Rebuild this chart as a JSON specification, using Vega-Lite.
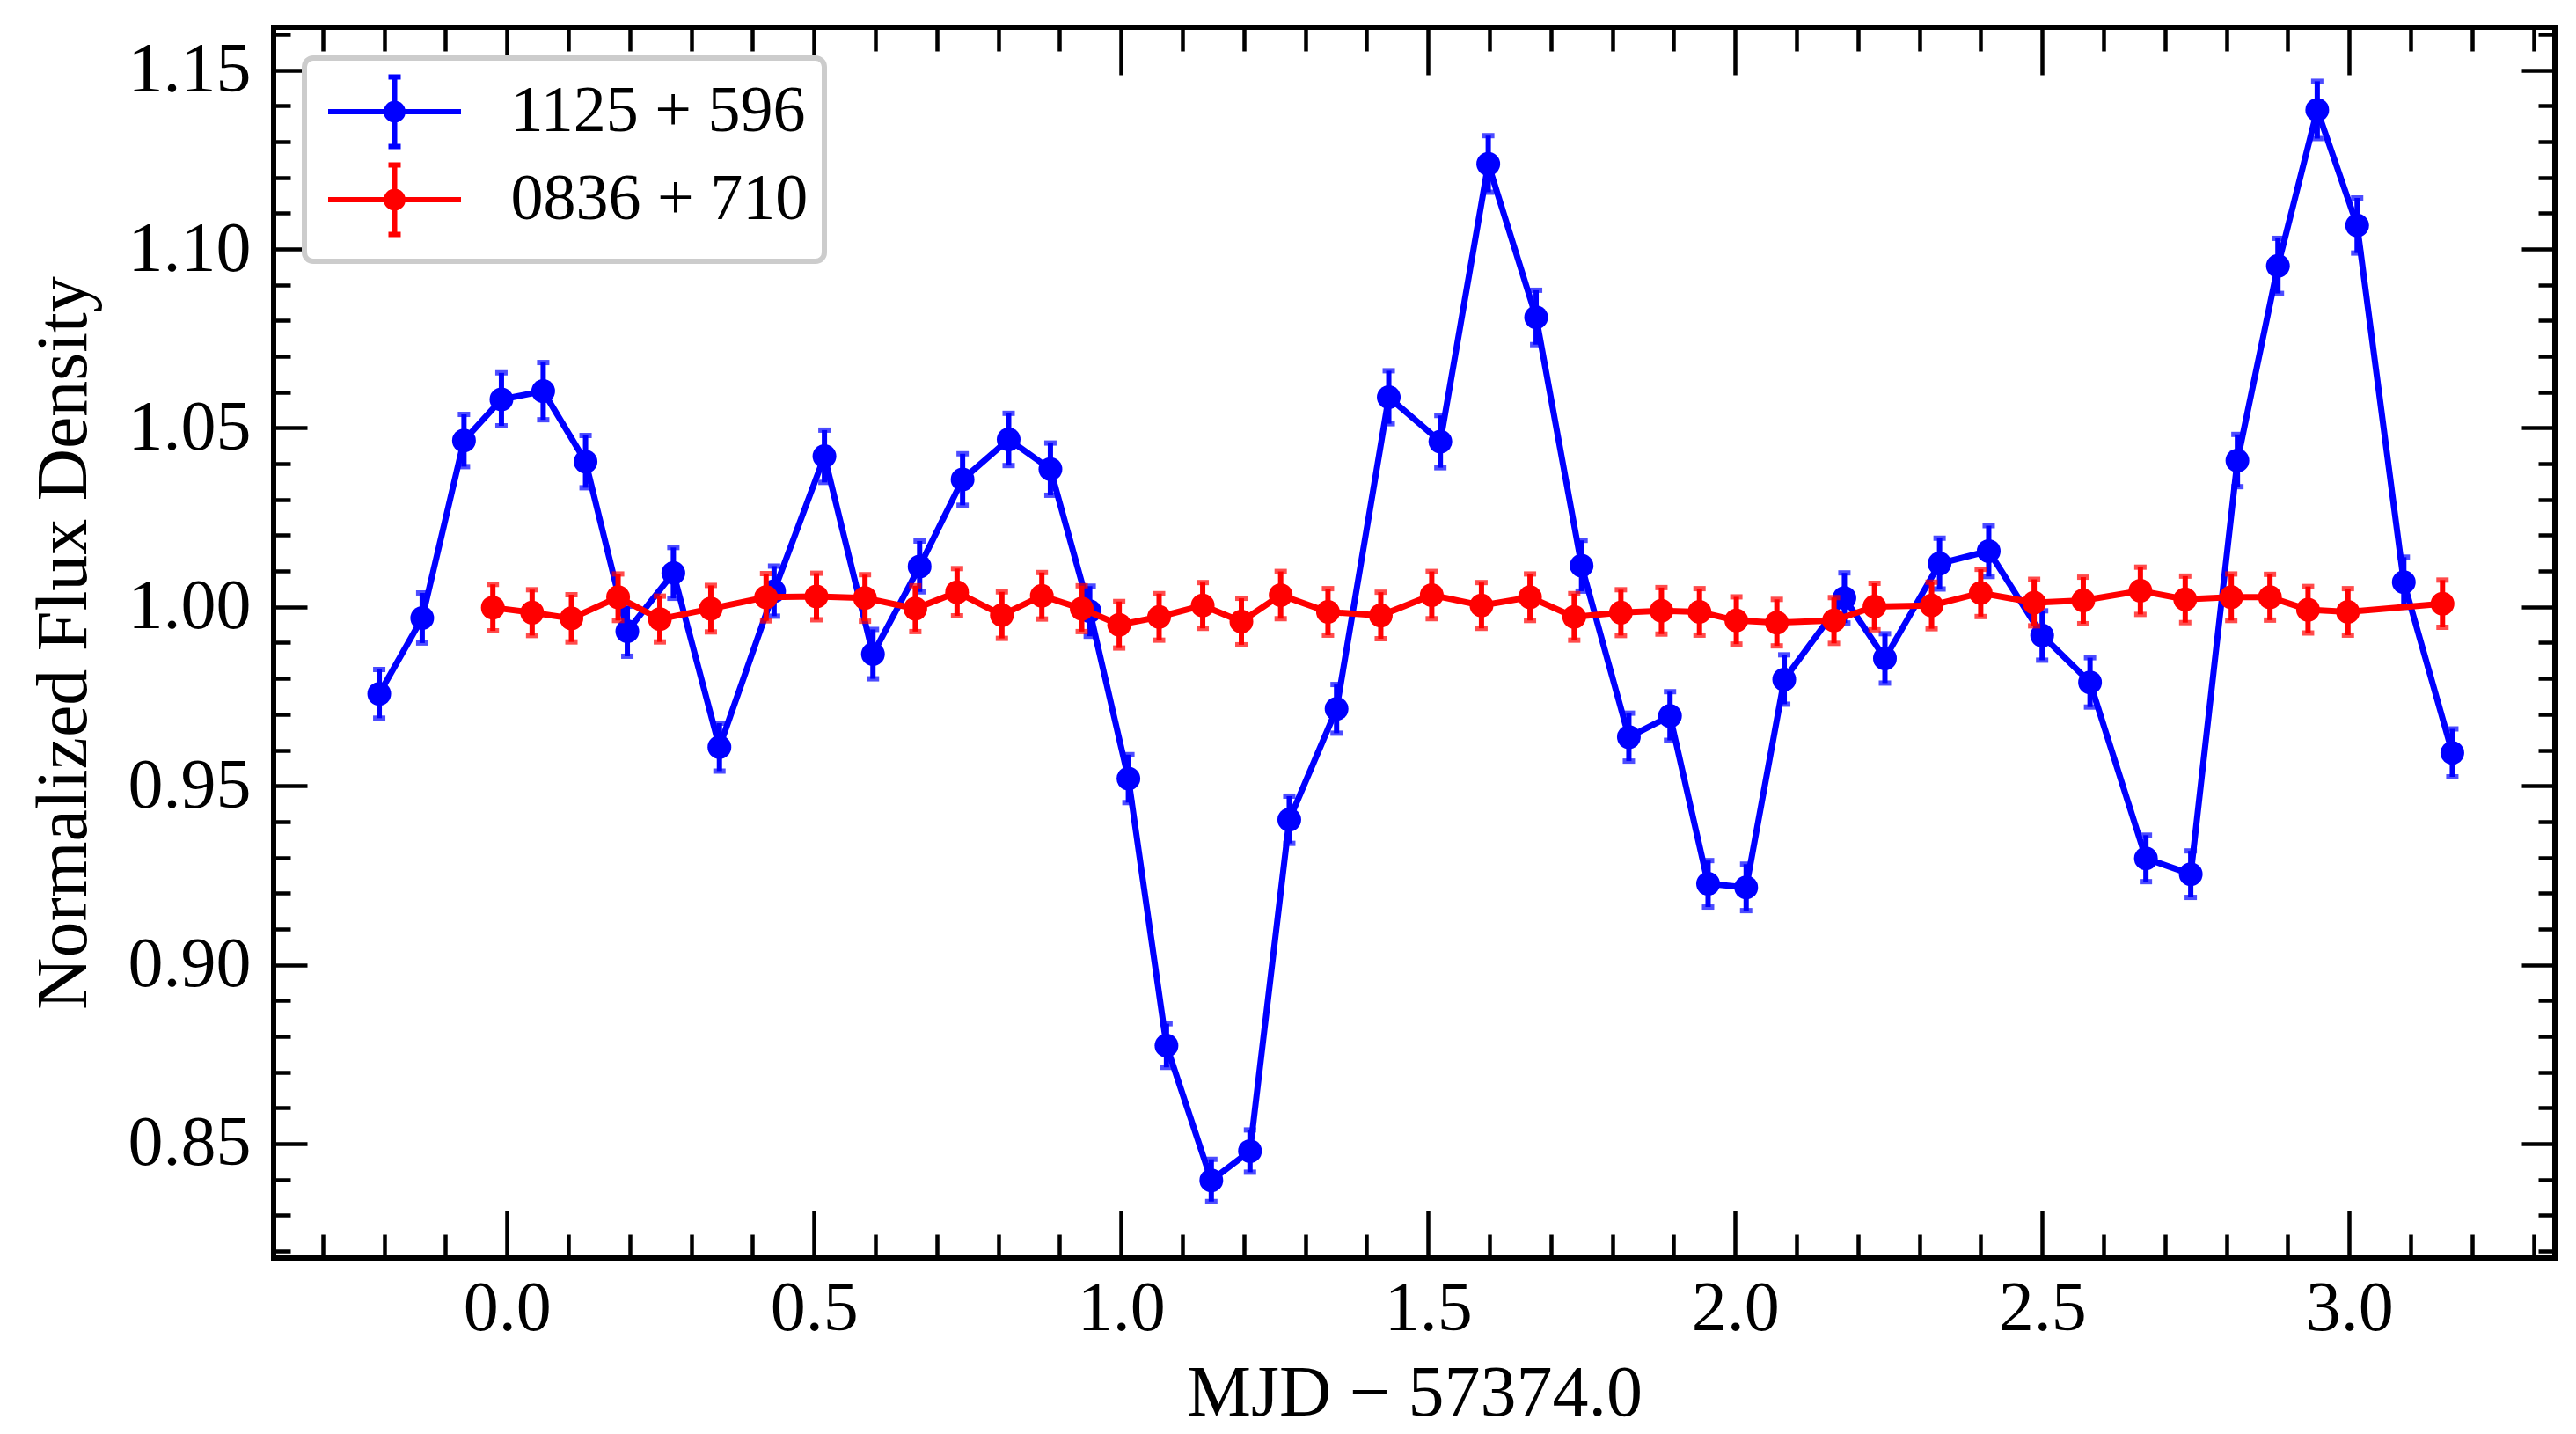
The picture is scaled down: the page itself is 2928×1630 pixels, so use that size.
{
  "$schema": "https://vega.github.io/schema/vega-lite/v6.json",
  "width": 2593,
  "height": 1399,
  "autosize": {"type": "none"},
  "padding": {"left": 311, "top": 31, "right": 24, "bottom": 200},
  "background": "white",
  "config": {
    "view": {"stroke": "black", "strokeWidth": 6},
    "font": "Liberation Serif",
    "axis": {
      "domain": false,
      "grid": false,
      "labelFont": "Liberation Serif",
      "labelFontSize": 80,
      "labelColor": "black",
      "labelFlush": false,
      "labelOverlap": false,
      "tickColor": "black",
      "tickWidth": 4.5,
      "titleFont": "Liberation Serif",
      "titleFontSize": 82,
      "titleFontWeight": "normal",
      "titleColor": "black"
    },
    "legend": {"symbolStrokeWidth": 6, "symbolOpacity": 1, "strokeWidth": 6}
  },
  "data": {
    "values": [
      {"mjd": -0.208, "flux": 0.9757, "err": 0.0068, "src": "1125 + 596"},
      {"mjd": -0.138, "flux": 0.9969, "err": 0.0070, "src": "1125 + 596"},
      {"mjd": -0.070, "flux": 1.0465, "err": 0.0073, "src": "1125 + 596"},
      {"mjd": -0.009, "flux": 1.0580, "err": 0.0074, "src": "1125 + 596"},
      {"mjd": 0.059, "flux": 1.0603, "err": 0.0080, "src": "1125 + 596"},
      {"mjd": 0.128, "flux": 1.0406, "err": 0.0073, "src": "1125 + 596"},
      {"mjd": 0.196, "flux": 0.9932, "err": 0.0070, "src": "1125 + 596"},
      {"mjd": 0.271, "flux": 1.0095, "err": 0.0071, "src": "1125 + 596"},
      {"mjd": 0.346, "flux": 0.9608, "err": 0.0067, "src": "1125 + 596"},
      {"mjd": 0.435, "flux": 1.0044, "err": 0.0070, "src": "1125 + 596"},
      {"mjd": 0.517, "flux": 1.0421, "err": 0.0073, "src": "1125 + 596"},
      {"mjd": 0.596, "flux": 0.9868, "err": 0.0069, "src": "1125 + 596"},
      {"mjd": 0.672, "flux": 1.0113, "err": 0.0071, "src": "1125 + 596"},
      {"mjd": 0.742, "flux": 1.0356, "err": 0.0072, "src": "1125 + 596"},
      {"mjd": 0.817, "flux": 1.0468, "err": 0.0073, "src": "1125 + 596"},
      {"mjd": 0.885, "flux": 1.0385, "err": 0.0073, "src": "1125 + 596"},
      {"mjd": 0.949, "flux": 0.9988, "err": 0.0070, "src": "1125 + 596"},
      {"mjd": 1.012, "flux": 0.9520, "err": 0.0067, "src": "1125 + 596"},
      {"mjd": 1.074, "flux": 0.8774, "err": 0.0061, "src": "1125 + 596"},
      {"mjd": 1.147, "flux": 0.8397, "err": 0.0059, "src": "1125 + 596"},
      {"mjd": 1.210, "flux": 0.8479, "err": 0.0059, "src": "1125 + 596"},
      {"mjd": 1.274, "flux": 0.9405, "err": 0.0066, "src": "1125 + 596"},
      {"mjd": 1.351, "flux": 0.9715, "err": 0.0068, "src": "1125 + 596"},
      {"mjd": 1.436, "flux": 1.0586, "err": 0.0074, "src": "1125 + 596"},
      {"mjd": 1.520, "flux": 1.0462, "err": 0.0073, "src": "1125 + 596"},
      {"mjd": 1.598, "flux": 1.1238, "err": 0.0079, "src": "1125 + 596"},
      {"mjd": 1.676, "flux": 1.0809, "err": 0.0076, "src": "1125 + 596"},
      {"mjd": 1.750, "flux": 1.0115, "err": 0.0071, "src": "1125 + 596"},
      {"mjd": 1.827, "flux": 0.9636, "err": 0.0067, "src": "1125 + 596"},
      {"mjd": 1.894, "flux": 0.9695, "err": 0.0068, "src": "1125 + 596"},
      {"mjd": 1.956, "flux": 0.9226, "err": 0.0065, "src": "1125 + 596"},
      {"mjd": 2.018, "flux": 0.9216, "err": 0.0065, "src": "1125 + 596"},
      {"mjd": 2.080, "flux": 0.9797, "err": 0.0069, "src": "1125 + 596"},
      {"mjd": 2.178, "flux": 1.0025, "err": 0.0070, "src": "1125 + 596"},
      {"mjd": 2.244, "flux": 0.9856, "err": 0.0069, "src": "1125 + 596"},
      {"mjd": 2.333, "flux": 1.0121, "err": 0.0071, "src": "1125 + 596"},
      {"mjd": 2.413, "flux": 1.0156, "err": 0.0071, "src": "1125 + 596"},
      {"mjd": 2.500, "flux": 0.9920, "err": 0.0069, "src": "1125 + 596"},
      {"mjd": 2.578, "flux": 0.9789, "err": 0.0069, "src": "1125 + 596"},
      {"mjd": 2.669, "flux": 0.9297, "err": 0.0065, "src": "1125 + 596"},
      {"mjd": 2.742, "flux": 0.9253, "err": 0.0065, "src": "1125 + 596"},
      {"mjd": 2.818, "flux": 1.0409, "err": 0.0073, "src": "1125 + 596"},
      {"mjd": 2.884, "flux": 1.0953, "err": 0.0077, "src": "1125 + 596"},
      {"mjd": 2.948, "flux": 1.1389, "err": 0.0080, "src": "1125 + 596"},
      {"mjd": 3.013, "flux": 1.1066, "err": 0.0077, "src": "1125 + 596"},
      {"mjd": 3.089, "flux": 1.0069, "err": 0.0070, "src": "1125 + 596"},
      {"mjd": 3.168, "flux": 0.9592, "err": 0.0067, "src": "1125 + 596"},
      {"mjd": -0.023, "flux": 0.9998, "err": 0.0065, "src": "0836 + 710"},
      {"mjd": 0.041, "flux": 0.9984, "err": 0.0064, "src": "0836 + 710"},
      {"mjd": 0.105, "flux": 0.9968, "err": 0.0066, "src": "0836 + 710"},
      {"mjd": 0.181, "flux": 1.0027, "err": 0.0065, "src": "0836 + 710"},
      {"mjd": 0.249, "flux": 0.9966, "err": 0.0064, "src": "0836 + 710"},
      {"mjd": 0.332, "flux": 0.9995, "err": 0.0065, "src": "0836 + 710"},
      {"mjd": 0.422, "flux": 1.0027, "err": 0.0066, "src": "0836 + 710"},
      {"mjd": 0.504, "flux": 1.0029, "err": 0.0065, "src": "0836 + 710"},
      {"mjd": 0.583, "flux": 1.0025, "err": 0.0065, "src": "0836 + 710"},
      {"mjd": 0.665, "flux": 0.9995, "err": 0.0064, "src": "0836 + 710"},
      {"mjd": 0.733, "flux": 1.0041, "err": 0.0066, "src": "0836 + 710"},
      {"mjd": 0.806, "flux": 0.9977, "err": 0.0065, "src": "0836 + 710"},
      {"mjd": 0.871, "flux": 1.0031, "err": 0.0065, "src": "0836 + 710"},
      {"mjd": 0.936, "flux": 0.9995, "err": 0.0064, "src": "0836 + 710"},
      {"mjd": 0.997, "flux": 0.9950, "err": 0.0065, "src": "0836 + 710"},
      {"mjd": 1.062, "flux": 0.9972, "err": 0.0065, "src": "0836 + 710"},
      {"mjd": 1.133, "flux": 1.0004, "err": 0.0064, "src": "0836 + 710"},
      {"mjd": 1.196, "flux": 0.9959, "err": 0.0065, "src": "0836 + 710"},
      {"mjd": 1.260, "flux": 1.0033, "err": 0.0066, "src": "0836 + 710"},
      {"mjd": 1.337, "flux": 0.9986, "err": 0.0065, "src": "0836 + 710"},
      {"mjd": 1.423, "flux": 0.9976, "err": 0.0065, "src": "0836 + 710"},
      {"mjd": 1.506, "flux": 1.0033, "err": 0.0066, "src": "0836 + 710"},
      {"mjd": 1.587, "flux": 1.0004, "err": 0.0064, "src": "0836 + 710"},
      {"mjd": 1.666, "flux": 1.0027, "err": 0.0065, "src": "0836 + 710"},
      {"mjd": 1.738, "flux": 0.9972, "err": 0.0065, "src": "0836 + 710"},
      {"mjd": 1.814, "flux": 0.9984, "err": 0.0064, "src": "0836 + 710"},
      {"mjd": 1.880, "flux": 0.9989, "err": 0.0065, "src": "0836 + 710"},
      {"mjd": 1.942, "flux": 0.9986, "err": 0.0065, "src": "0836 + 710"},
      {"mjd": 2.002, "flux": 0.9962, "err": 0.0066, "src": "0836 + 710"},
      {"mjd": 2.068, "flux": 0.9956, "err": 0.0065, "src": "0836 + 710"},
      {"mjd": 2.161, "flux": 0.9962, "err": 0.0064, "src": "0836 + 710"},
      {"mjd": 2.227, "flux": 1.0001, "err": 0.0065, "src": "0836 + 710"},
      {"mjd": 2.320, "flux": 1.0004, "err": 0.0065, "src": "0836 + 710"},
      {"mjd": 2.400, "flux": 1.0039, "err": 0.0066, "src": "0836 + 710"},
      {"mjd": 2.487, "flux": 1.0012, "err": 0.0065, "src": "0836 + 710"},
      {"mjd": 2.567, "flux": 1.0018, "err": 0.0065, "src": "0836 + 710"},
      {"mjd": 2.660, "flux": 1.0045, "err": 0.0066, "src": "0836 + 710"},
      {"mjd": 2.733, "flux": 1.0021, "err": 0.0065, "src": "0836 + 710"},
      {"mjd": 2.808, "flux": 1.0027, "err": 0.0065, "src": "0836 + 710"},
      {"mjd": 2.871, "flux": 1.0027, "err": 0.0064, "src": "0836 + 710"},
      {"mjd": 2.933, "flux": 0.9992, "err": 0.0065, "src": "0836 + 710"},
      {"mjd": 2.998, "flux": 0.9986, "err": 0.0065, "src": "0836 + 710"},
      {"mjd": 3.152, "flux": 1.0009, "err": 0.0066, "src": "0836 + 710"}
    ]
  },
  "encoding": {
    "color": {
      "field": "src",
      "type": "nominal",
      "scale": {"domain": ["1125 + 596", "0836 + 710"], "range": ["#0000ff", "#ff0000"]},
      "legend": {
        "title": null,
        "orient": "top-left",
        "offset": 35,
        "padding": 18,
        "fillColor": "white",
        "strokeColor": "#cccccc",
        "cornerRadius": 10,
        "symbolType": "M-1.8875,0H1.8875M0,-0.9875V0.9875M-0.175,-0.9875H0.175M-0.175,0.9875H0.175M0.2375,0A0.2375,0.2375,0,1,1,-0.2375,0A0.2375,0.2375,0,1,1,0.2375,0ZM0.1,0A0.1,0.1,0,1,1,-0.1,0A0.1,0.1,0,1,1,0.1,0ZM0.03,0A0.03,0.03,0,1,1,-0.03,0A0.03,0.03,0,1,1,0.03,0Z",
        "symbolSize": 6400,
        "symbolStrokeWidth": 6,
        "symbolOpacity": 1,
        "symbolOffset": 41.5,
        "labelOffset": 89,
        "labelFont": "Liberation Serif",
        "labelFontSize": 74,
        "labelColor": "black",
        "labelLimit": 1000,
        "rowPadding": -4
      }
    }
  },
  "layer": [
    {
      "transform": [{"filter": "datum.src === '1125 + 596'"}],
      "mark": {"type": "line", "strokeWidth": 7},
      "encoding": {
        "x": {"field": "mjd", "type": "quantitative", "scale": {"domain": [-0.38, 3.335], "nice": false, "zero": false},
          "axis": {"orient": "bottom", "values": [0, 0.5, 1, 1.5, 2, 2.5, 3], "format": ".1f", "ticks": false, "labelPadding": 18, "title": "MJD − 57374.0", "titlePadding": 16}},
        "y": {"field": "flux", "type": "quantitative", "scale": {"domain": [0.818, 1.162], "nice": false, "zero": false},
          "axis": {"orient": "left", "values": [0.85, 0.9, 0.95, 1, 1.05, 1.1, 1.15], "format": ".2f", "ticks": false, "labelPadding": 26, "title": "Normalized Flux Density", "titlePadding": 31}}
      }
    },
    {
      "transform": [{"filter": "datum.src === '1125 + 596'"}],
      "mark": {"type": "errorbar", "ticks": true, "size": 14, "thickness": 6},
      "encoding": {
        "x": {"field": "mjd", "type": "quantitative", "scale": {"domain": [-0.38, 3.335], "nice": false, "zero": false}, "axis": null},
        "y": {"field": "flux", "type": "quantitative", "scale": {"domain": [0.818, 1.162], "nice": false, "zero": false}, "axis": null},
        "yError": {"field": "err"}
      }
    },
    {
      "transform": [{"filter": "datum.src === '1125 + 596'"}],
      "mark": {"type": "circle", "size": 729, "opacity": 1},
      "encoding": {
        "x": {"field": "mjd", "type": "quantitative", "scale": {"domain": [-0.38, 3.335], "nice": false, "zero": false},
          "axis": {"orient": "bottom", "values": [0, 0.5, 1, 1.5, 2, 2.5, 3], "labels": false, "ticks": true, "tickSize": -54, "title": null}},
        "y": {"field": "flux", "type": "quantitative", "scale": {"domain": [0.818, 1.162], "nice": false, "zero": false},
          "axis": {"orient": "left", "values": [0.85, 0.9, 0.95, 1, 1.05, 1.1, 1.15], "labels": false, "ticks": true, "tickSize": -38, "title": null}}
      }
    },
    {
      "transform": [{"filter": "datum.src === '0836 + 710'"}],
      "mark": {"type": "line", "strokeWidth": 7},
      "encoding": {
        "x": {"field": "mjd", "type": "quantitative", "scale": {"domain": [-0.38, 3.335], "nice": false, "zero": false},
          "axis": {"orient": "bottom", "values": [-0.3, -0.2, -0.1, 0.1, 0.2, 0.3, 0.4, 0.6, 0.7, 0.8, 0.9, 1.1, 1.2, 1.3, 1.4, 1.6, 1.7, 1.8, 1.9, 2.1, 2.2, 2.3, 2.4, 2.6, 2.7, 2.8, 2.9, 3.1, 3.2, 3.3], "labels": false, "ticks": true, "tickSize": -27, "title": null}},
        "y": {"field": "flux", "type": "quantitative", "scale": {"domain": [0.818, 1.162], "nice": false, "zero": false},
          "axis": {"orient": "left", "values": [0.82, 0.83, 0.84, 0.86, 0.87, 0.88, 0.89, 0.91, 0.92, 0.93, 0.94, 0.96, 0.97, 0.98, 0.99, 1.01, 1.02, 1.03, 1.04, 1.06, 1.07, 1.08, 1.09, 1.11, 1.12, 1.13, 1.14, 1.16], "labels": false, "ticks": true, "tickSize": -19, "title": null}}
      }
    },
    {
      "transform": [{"filter": "datum.src === '0836 + 710'"}],
      "mark": {"type": "errorbar", "ticks": true, "size": 14, "thickness": 6},
      "encoding": {
        "x": {"field": "mjd", "type": "quantitative", "scale": {"domain": [-0.38, 3.335], "nice": false, "zero": false}, "axis": null},
        "y": {"field": "flux", "type": "quantitative", "scale": {"domain": [0.818, 1.162], "nice": false, "zero": false}, "axis": null},
        "yError": {"field": "err"}
      }
    },
    {
      "transform": [{"filter": "datum.src === '0836 + 710'"}],
      "mark": {"type": "circle", "size": 729, "opacity": 1},
      "encoding": {
        "x": {"field": "mjd", "type": "quantitative", "scale": {"domain": [-0.38, 3.335], "nice": false, "zero": false},
          "axis": {"orient": "top", "values": [0, 0.5, 1, 1.5, 2, 2.5, 3], "labels": false, "ticks": true, "tickSize": -54, "title": null}},
        "y": {"field": "flux", "type": "quantitative", "scale": {"domain": [0.818, 1.162], "nice": false, "zero": false},
          "axis": {"orient": "right", "values": [0.85, 0.9, 0.95, 1, 1.05, 1.1, 1.15], "labels": false, "ticks": true, "tickSize": -38, "title": null}}
      }
    },
    {
      "transform": [{"filter": "datum.src === '0836 + 710'"}],
      "mark": {"type": "circle", "size": 729, "opacity": 0},
      "encoding": {
        "x": {"field": "mjd", "type": "quantitative", "scale": {"domain": [-0.38, 3.335], "nice": false, "zero": false},
          "axis": {"orient": "top", "values": [-0.3, -0.2, -0.1, 0.1, 0.2, 0.3, 0.4, 0.6, 0.7, 0.8, 0.9, 1.1, 1.2, 1.3, 1.4, 1.6, 1.7, 1.8, 1.9, 2.1, 2.2, 2.3, 2.4, 2.6, 2.7, 2.8, 2.9, 3.1, 3.2, 3.3], "labels": false, "ticks": true, "tickSize": -27, "title": null}},
        "y": {"field": "flux", "type": "quantitative", "scale": {"domain": [0.818, 1.162], "nice": false, "zero": false},
          "axis": {"orient": "right", "values": [0.82, 0.83, 0.84, 0.86, 0.87, 0.88, 0.89, 0.91, 0.92, 0.93, 0.94, 0.96, 0.97, 0.98, 0.99, 1.01, 1.02, 1.03, 1.04, 1.06, 1.07, 1.08, 1.09, 1.11, 1.12, 1.13, 1.14, 1.16], "labels": false, "ticks": true, "tickSize": -19, "title": null}}
      }
    }
  ],
  "resolve": {"axis": {"x": "independent", "y": "independent"}}
}
